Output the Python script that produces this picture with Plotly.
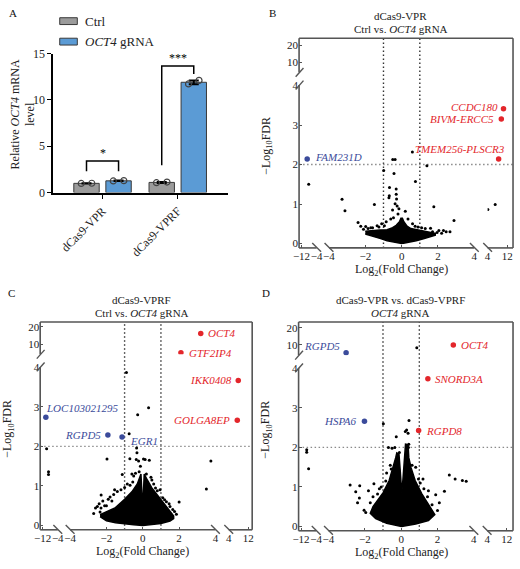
import math
import plotly.graph_objects as go

W, H = 520, 569
FONT = "Liberation Serif"
RED = "#e3262b"
BLUE = "#3b4b9b"
GREY = "#555555"

# ---------------- panel A: relative OCT4 mRNA ----------------
groups = ["dCas9-VPR", "dCas9-VPRF"]
ctrl_mean = [1.0, 1.1]
ctrl_sd = [0.02, 0.05]
grna_mean = [1.27, 11.9]
grna_sd = [0.03, 0.2]
ctrl_reps = [[0.99, 1.01], [1.07, 1.14]]
grna_reps = [[1.26, 1.29], [11.72, 12.1]]
sig_text = ["*", "***"]
sig_top = [3.4, 13.65]
sig_left_foot = [2.3, 2.95]
sig_right_foot = [2.3, 12.8]

# ---------------- panel B: dCas9-VPR, Ctrl vs OCT4 gRNA ----------------
B_up_genes = ["CCDC180", "BIVM-ERCC5", "TMEM256-PLSCR3"]
B_up_x = [10.5, 9.6, 8.5]
B_up_y = [3.41, 3.15, 2.14]
B_dn_genes = ["FAM231D"]
B_dn_x = [-9.0]
B_dn_y = [2.14]
B_ns_x = [-8.2, -3.28, -3.12, -2.4, -2.25, -1.98, -1.5, -0.99, -0.49, -0.36, -0.42, -0.67, -0.3,
          -0.3, -0.28, -0.68, -0.36, -0.7, -0.5, -0.25, -0.15, -0.6, -0.85, -1.1, -1.35, -1.7,
          0.2, 0.35, 0.59, 0.76, 1.39, 0.6, 0.74, 0.9, 1.1, 1.3, 1.59, 1.77, 2.05, 2.3, 2.45,
          2.66, 2.88, 4.1, 7.1, -2.1, -1.85, -1.6, -1.25, -0.95, 1.7, 1.95, 2.2, -0.45, -0.2]
B_ns_y = [1.5, 1.12, 0.83, 0.53, 0.44, 0.43, 0.99, 1.85, 2.13, 2.13, 1.77, 1.42, 1.38,
          1.25, 1.13, 1.21, 1.01, 1.16, 0.85, 0.95, 0.88, 0.62, 0.55, 0.5, 0.45, 0.4,
          0.82, 0.62, 2.32, 1.57, 1.97, 0.5, 0.44, 0.42, 0.4, 0.38, 0.39, 0.93, 0.33, 0.33, 0.3,
          0.3, 0.58, 0.86, 0.99, 0.36, 0.38, 0.4, 0.42, 0.45, 0.3, 0.28, 0.26, 0.65, 0.75]
B_core_x = [-2.0, -1.6, -1.2, -0.8, -0.4, -0.1, 0.0, 0.1, 0.4, 0.8, 1.2, 1.6, 1.85,
            1.85, 1.6, 1.2, 0.8, 0.5, 0.3, 0.12, 0.04, -0.04, -0.12, -0.3, -0.5, -0.8, -1.2, -1.6, -2.0]
B_core_y = [0.24, 0.19, 0.13, 0.07, 0.03, 0.01, 0.0, 0.01, 0.03, 0.07, 0.12, 0.17, 0.21,
            0.26, 0.28, 0.31, 0.34, 0.38, 0.44, 0.55, 0.64, 0.64, 0.55, 0.46, 0.4, 0.35, 0.34, 0.32, 0.31]

# ---------------- panel C: dCas9-VPRF, Ctrl vs OCT4 gRNA ----------------
C_up_genes = ["OCT4", "GTF2IP4", "IKK0408", "GOLGA8EP"]
C_up_x = [3.19, 2.1, 7.9, 7.5]
C_up_y = [15.4, 7.0, 3.67, 2.66]
C_dn_genes = ["LOC103021295", "RGPD5", "EGR1"]
C_dn_x = [-10.3, -1.92, -1.14]
C_dn_y = [2.74, 2.29, 2.24]
C_ns_x = [-9.9, -8.9, -8.9, -2.6, -2.3, -2.29, -1.97, -2.0, -1.7, -1.13, -0.9, -0.75, -0.71,
          -0.85, -0.6, -0.5, -0.4, -0.34, -0.32, -0.28, -0.36, -0.23, -0.2, -0.13, 0.04, 0.13,
          0.36, 0.2, 0.32, 0.5, 0.7, 1.2, 1.5, 1.75, 2.0, 3.5, 3.75,
          -2.7, -2.5, -2.4, -2.2, -2.1, -1.9, -1.8, -1.6, -1.4, -1.2, -1.0, -0.7, -0.55,
          0.45, 0.6, 0.8, 0.95, 1.1, 1.3, 1.45, 1.65, 1.85, -1.55, -2.35]
C_ns_y = [1.94, 1.36, 1.29, 0.44, 0.44, 0.77, 1.68, 0.5, 0.62, 1.29, 3.87, 2.32, 1.69,
          1.05, 1.3, 1.25, 1.32, 1.96, 1.84, 2.8, 1.67, 1.63, 1.36, 1.5, 1.68, 1.67,
          1.65, 1.3, 2.98, 1.15, 0.95, 0.65, 0.48, 0.35, 0.59, 0.92, 1.63,
          0.3, 0.48, 0.55, 0.62, 0.5, 0.66, 0.72, 0.78, 0.86, 0.9, 0.96, 1.02, 1.1,
          1.22, 1.05, 0.88, 0.9, 0.7, 0.6, 0.55, 0.4, 0.28, 0.9, 0.34]
C_core_x = [-2.35, -2.0, -1.5, -1.0, -0.5, 0.0, 0.5, 1.0, 1.5, 1.7,
            1.7, 1.5, 1.0, 0.5, 0.25, 0.08, 0.03, -0.04, -0.1, -0.3, -0.6, -1.0, -1.5, -2.0, -2.35]
C_core_y = [0.22, 0.12, 0.07, 0.04, 0.02, 0.0, 0.02, 0.05, 0.11, 0.17,
            0.24, 0.36, 0.66, 0.95, 1.15, 1.3, 0.75, 0.75, 1.3, 1.05, 0.85, 0.66, 0.45, 0.34, 0.27]

# ---------------- panel D: VPR vs VPRF, OCT4 gRNA ----------------
D_up_genes = ["OCT4", "SNORD3A", "RGPD8"]
D_up_x = [2.87, 1.47, 0.96]
D_up_y = [10.0, 3.74, 2.43]
D_dn_genes = ["RGPD5", "HSPA6"]
D_dn_x = [-3.03, -2.02]
D_dn_y = [7.3, 2.66]
D_ns_x = [-9.0, -9.0, -8.0, -2.81, -2.5, -2.3, -2.4, -2.28, -2.04, -1.8, -1.5, -0.98, -0.8,
          -0.7, -0.6, -0.5, -0.35, -0.27, -0.1, 0.23, 0.3, 0.38, 0.43, 0.35, 0.4, 0.42, 0.8,
          1.2, 1.5, 1.9, 2.1, 2.38, 2.65, 2.97, 3.37, 3.58, 0.86,
          -1.95, -1.7, -1.55, -1.3, -1.1, -0.85, -0.55, 0.6, 0.95, 1.25, 1.45, 1.7, 2.0, -1.2, 1.05]
D_ns_y = [1.94, 1.88, 1.46, 1.05, 0.88, 0.72, 0.6, 1.03, 0.41, 0.9, 1.08, 2.6, 1.35,
          2.0, 1.55, 1.98, 2.0, 2.27, 1.87, 2.4, 2.44, 2.36, 2.68, 2.03, 2.0, 2.08, 1.5,
          1.2, 0.9, 0.8, 0.6, 0.89, 1.3, 1.2, 1.16, 1.14, 8.95,
          0.35, 0.6, 0.75, 0.82, 1.0, 1.15, 1.45, 1.55, 1.2, 0.95, 0.75, 0.55, 0.4, 0.95, 1.1]
D_core_x = [0.02, -0.8, -1.4, -1.7, -1.55, -1.25, -1.0, -0.66, -0.43, -0.3, -0.24, -0.12,
            -0.05, 0.03, 0.1, 0.15, 0.24, 0.38, 0.42, 0.54, 0.77, 1.13, 1.55, 1.85, 1.5, 0.8, 0.02]
D_core_y = [0.0, 0.08, 0.2, 0.33, 0.5, 0.7, 0.85, 1.16, 1.5, 1.74, 1.86, 1.83,
            1.4, 0.85, 1.2, 1.6, 2.08, 2.07, 1.74, 1.49, 1.16, 0.83, 0.5, 0.3, 0.15, 0.06, 0.0]


def px(x):
    return x / W


def py(y):
    return 1 - y / H


fig = go.Figure()
shapes = []
annotations = []
layout = {}


def line_px(x0, y0, x1, y1, color=GREY, width=1.6):
    shapes.append(dict(type="line", xref="paper", yref="paper", x0=px(x0), y0=py(y0),
                       x1=px(x1), y1=py(y1), line=dict(color=color, width=width)))


def text_px(x, y, text, size=12, color="#222", angle=0, xanchor="center"):
    annotations.append(dict(xref="paper", yref="paper", x=px(x), y=py(y), text=text,
                            showarrow=False, textangle=angle, xanchor=xanchor, yanchor="middle",
                            font=dict(family=FONT, size=size, color=color)))


# ---------------- panel A ----------------
BARGAP, GROUPGAP = 0.148, 0.207
slot = (1 - BARGAP) / 2
gx = list(range(len(groups)))
fig.add_trace(go.Bar(x=gx, y=ctrl_mean, name="Ctrl", showlegend=False,
                     marker=dict(color="#9b9b9b", line=dict(color="#3a3a3a", width=1)),
                     error_y=dict(type="data", array=ctrl_sd, color="black", thickness=2, width=5)))
fig.add_trace(go.Bar(x=gx, y=grna_mean, name="OCT4 gRNA", showlegend=False,
                     marker=dict(color="#5b9bd5", line=dict(color="#3a3a3a", width=1)),
                     error_y=dict(type="data", array=grna_sd, color="black", thickness=2, width=5)))
for reps, sign in ((ctrl_reps, -1), (grna_reps, 1)):
    xs, ys = [], []
    for i, r in enumerate(reps):
        c = i + sign * slot / 2
        for j, v in enumerate(r):
            xs.append(c + (j - 0.5) * 0.14)
            ys.append(v)
    fig.add_trace(go.Scatter(x=xs, y=ys, mode="markers", showlegend=False, hoverinfo="skip",
                             marker=dict(symbol="circle-open", size=6, color="#444",
                                         line=dict(width=1.2))))
for i in gx:
    xl, xr = i - slot / 2, i + slot / 2
    shapes.append(dict(type="path", xref="x", yref="y", line=dict(color="black", width=1.5),
                       path=f"M {xl},{sig_left_foot[i]} L {xl},{sig_top[i]} L {xr},{sig_top[i]} "
                            f"L {xr},{sig_right_foot[i]}"))
    annotations.append(dict(xref="x", yref="y", x=i, y=sig_top[i], text=sig_text[i],
                            showarrow=False, yanchor="bottom", yshift=-1,
                            font=dict(family=FONT, size=12, color="black")))

layout["xaxis"] = dict(domain=[px(48.3), px(227.7)], range=[-0.656, 1.674], tickvals=gx,
                       ticktext=groups, tickangle=-45, ticks="outside", ticklen=5,
                       tickcolor="black", showline=True, linecolor="black", linewidth=1.5,
                       showgrid=False, zeroline=False, anchor="y",
                       tickfont=dict(family=FONT, size=12, color="#222"))
layout["yaxis"] = dict(domain=[py(190.3), py(47.7)], range=[0, 15], tickvals=[0, 5, 10, 15],
                       ticks="outside", ticklen=4, tickcolor="black", showline=True,
                       linecolor="black", linewidth=1.5, showgrid=False, zeroline=False,
                       anchor="x", tickfont=dict(family=FONT, size=12, color="#222"))

# manual legend
for yc, col, lab in ((14.5, "#9b9b9b", "Ctrl"), (35.5, "#5b9bd5", "<i>OCT4</i> gRNA")):
    shapes.append(dict(type="rect", xref="paper", yref="paper", x0=px(55), x1=px(73),
                       y0=py(yc + 3.5), y1=py(yc - 3.5), fillcolor=col,
                       line=dict(color="#3a3a3a", width=1)))
    text_px(79, yc, lab, size=13, xanchor="left")
text_px(17.5, 110, "Relative <i>OCT4</i> mRNA<br>level", size=12, angle=-90)


# ---------------- volcano panels ----------------
def volcano(k, frame, title, ns_x, ns_y, core_x, core_y, up, dn):
    fl, ft, fr, fb = frame
    xid = [2 + 3 * k + i for i in range(3)]
    yid = [2 + 2 * k + i for i in range(2)]
    xsegs = [
        (fl, fl + 18, [-12 - 2.5 / 1.94, -4], [-12, -4], ["\u221212", "\u22124"]),
        (fl + 30.6, fl + 179.4, [-4, 4], [-4, -2, 0, 2, 4], None),
        (fl + 193, fr, [4, 4 + (fr - fl - 193) / 2.5], [4, 12], ["4", "12"]),
    ]
    tick_font = dict(family=FONT, size=11, color="#222")
    for i, (a, b, rng, tv, tt) in enumerate(xsegs):
        ax = dict(domain=[px(a), px(b)], range=rng, tickvals=tv, ticks="inside", ticklen=3,
                  tickcolor=GREY, showline=False, showgrid=False, zeroline=False,
                  tickangle=0, anchor=f"y{yid[0]}", tickfont=tick_font)
        if tt:
            ax["ticktext"] = tt
        layout[f"xaxis{xid[i]}"] = ax
    layout[f"yaxis{yid[0]}"] = dict(domain=[py(fb), py(fb - 167)],
                                    range=[-4.5 / 40.5, 162.5 / 40.5], tickvals=[0, 1, 2, 3, 4],
                                    ticks="inside", ticklen=3, tickcolor=GREY, showline=False,
                                    showgrid=False, zeroline=False, anchor=f"x{xid[0]}",
                                    tickfont=tick_font)
    layout[f"yaxis{yid[1]}"] = dict(domain=[py(fb - 180), py(ft)], type="log",
                                    range=[1 - 10.5 / 58, 1 + (fb - ft - 190.5) / 58],
                                    tickvals=[10, 20], ticks="inside", ticklen=3, tickcolor=GREY,
                                    showline=False, showgrid=False, zeroline=False,
                                    anchor=f"x{xid[0]}", tickfont=tick_font)

    # empty traces so that every axis segment gets drawn
    for xi in range(3):
        for yi in range(2):
            fig.add_trace(go.Scatter(x=[], y=[], showlegend=False, hoverinfo="skip",
                                     xaxis=f"x{xid[xi]}", yaxis=f"y{yid[yi]}"))

    def ref(x, y):
        xi = 0 if x < -4 else (2 if x > 4 else 1)
        yi = 1 if y > 4.5 else 0
        return xi, yi

    # reference lines
    for xv in (-1, 1):
        shapes.append(dict(type="line", xref=f"x{xid[1]}", yref="paper", x0=xv, x1=xv,
                           y0=py(fb), y1=py(ft), layer="below",
                           line=dict(color="#333", width=1.4, dash="1.5px,2.5px")))
    shapes.append(dict(type="line", xref="paper", yref=f"y{yid[0]}", x0=px(fl), x1=px(fr),
                       y0=2, y1=2, layer="below",
                       line=dict(color="#8a8a8a", width=1.4, dash="1.5px,2.5px")))

    # dense core of non-significant genes
    fig.add_trace(go.Scatter(x=core_x, y=core_y, mode="lines", fill="toself", fillcolor="black",
                             line=dict(color="black", width=1.5), hoverinfo="skip",
                             showlegend=False, xaxis=f"x{xid[1]}", yaxis=f"y{yid[0]}"))

    def add_points(xs, ys, color, size):
        buckets = {}
        for x, y in zip(xs, ys):
            buckets.setdefault(ref(x, y), ([], []))
            buckets[ref(x, y)][0].append(x)
            buckets[ref(x, y)][1].append(y)
        for (xi, yi), (bx, by) in buckets.items():
            fig.add_trace(go.Scatter(x=bx, y=by, mode="markers", showlegend=False,
                                     marker=dict(color=color, size=size, line=dict(width=0)),
                                     xaxis=f"x{xid[xi]}", yaxis=f"y{yid[yi]}"))

    add_points(ns_x, ns_y, "black", 3)
    for (genes, gxs, gys, styles), color in ((up, RED), (dn, BLUE)):
        add_points(gxs, gys, color, 5.5)
        for g, x, y, (anchor, dx, dy) in zip(genes, gxs, gys, styles):
            xi, yi = ref(x, y)
            annotations.append(dict(xref=f"x{xid[xi]}", yref=f"y{yid[yi]}", x=x,
                                    y=math.log10(y) if yi else y, text=f"<i>{g}</i>",
                                    showarrow=False, xanchor=anchor, yanchor="middle",
                                    xshift=dx, yshift=dy,
                                    font=dict(family=FONT, size=11, color=color)))

    # frame with axis breaks
    line_px(fl, ft, fr, ft)
    line_px(fr, ft, fr, fb)
    line_px(fl, fb, fl, fb - 167)
    line_px(fl, fb - 180, fl, ft)
    line_px(fl, fb, fl + 18, fb)
    line_px(fl + 30.6, fb, fl + 179.4, fb)
    line_px(fl + 193, fb, fr, fb)
    for cx in (fl + 18, fl + 30.6, fl + 179.4, fl + 193):
        line_px(cx - 4.5, fb - 5, cx + 4.5, fb + 4, width=1.4)
    for cy in (fb - 167, fb - 180):
        line_px(fl - 3.5, cy + 4.5, fl + 4.5, cy - 4.5, width=1.4)

    # titles
    text_px(fl + 104, ft - 22.5, title[0], size=11)
    text_px(fl + 104, ft - 9.5, title[1], size=11)
    text_px(fl + 105, fb + 23, "Log<sub>2</sub>(Fold Change)", size=12)
    text_px(fl - 33, (ft + fb) / 2 + 3, "\u2212Log<sub>10</sub>FDR", size=12, angle=-90)


R, L = "right", "left"
volcano(0, (300, 32, 519, 247), ("dCas9-VPR", "Ctrl vs. <i>OCT4</i> gRNA"),
        B_ns_x, B_ns_y, B_core_x, B_core_y,
        (B_up_genes, B_up_x, B_up_y, [(R, -4, 2), (R, -5, 0), (R, 8, 10)]),
        (B_dn_genes, B_dn_x, B_dn_y, [(L, 6, 2)]))
volcano(1, (35, 323, 252, 536), ("dCas9-VPRF", "Ctrl vs. <i>OCT4</i> gRNA"),
        C_ns_x, C_ns_y, C_core_x, C_core_y,
        (C_up_genes, C_up_x, C_up_y, [(L, 5, 0), (L, 6, 0), (R, -4, 0), (R, -5, 0)]),
        (C_dn_genes, C_dn_x, C_dn_y, [(L, -2, 9), (R, -5, 0), (L, 6, -4)]))
volcano(2, (299.5, 323, 519, 537), ("dCas9-VPR vs. dCas9-VPRF", "<i>OCT4</i> gRNA"),
        D_ns_x, D_ns_y, D_core_x, D_core_y,
        (D_up_genes, D_up_x, D_up_y, [(L, 6, 0), (L, 5, 0), (L, 5, -1)]),
        (D_dn_genes, D_dn_x, D_dn_y, [(R, -4, 7), (R, -6, 0)]))

for lab, x, y in (("A", 7, 6), ("B", 273, 6), ("C", 6, 293), ("D", 266, 293)):
    text_px(x, y, lab, size=11, color="#111")

fig.update_layout(width=W, height=H, margin=dict(l=0, r=0, t=0, b=0),
                  paper_bgcolor="white", plot_bgcolor="rgba(0,0,0,0)",
                  barmode="group", bargap=BARGAP, bargroupgap=GROUPGAP,
                  font=dict(family=FONT, color="#222"),
                  shapes=shapes, annotations=annotations, **layout)
fig.write_html("out.html", config={"displayModeBar": False},
               post_script="document.body.style.margin='0';")
